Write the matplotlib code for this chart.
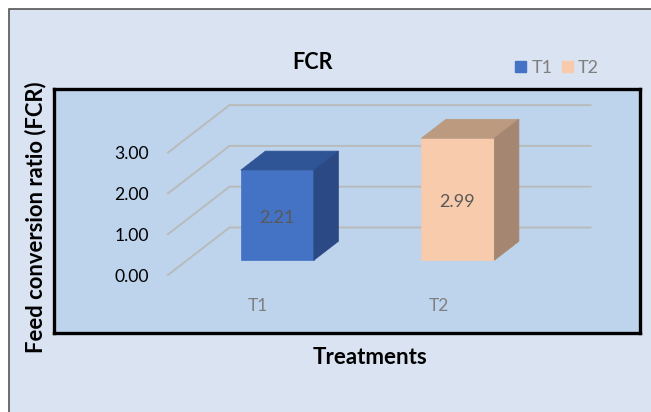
import matplotlib
matplotlib.use('Agg')
import matplotlib.pyplot as plt
from matplotlib.patches import Rectangle

plt.rcParams['font.family'] = ['Lato', 'DejaVu Sans']

# data
treatments = ['T1', 'T2']
fcr = [2.21, 2.99]
y_ticks = [0.00, 1.00, 2.00, 3.00]

front_colors = ['#4472C4', '#F7CBAC']
top_colors = ['#2F5597', '#BB9A80']
side_colors = ['#2B4A85', '#A58670']

W, H = 651, 412
# frame of the plot in pixels
L, R, T, B = 54, 640, 89, 333
# where x=0,y=0 sits and how big one unit is
X0, Y0 = 168, 275
XU, YU = 180.5, 40.8
# oblique depth, one full depth of the floor in data units
DX = 61.5 / XU
DY = 47.5 / YU
BAR_W = 73 / XU


def proj(x, y, d):
    return x + d * DX, y + d * DY


def box(ax, x0, x1, h, d0, d1, front, top, side):
    pts = [proj(x0, 0, d0), proj(x1, 0, d0), proj(x1, h, d0), proj(x0, h, d0)]
    ax.fill(*zip(*pts), color=front, lw=0.5, zorder=4)
    pts = [proj(x0, h, d0), proj(x1, h, d0), proj(x1, h, d1), proj(x0, h, d1)]
    ax.fill(*zip(*pts), color=top, lw=0.5, zorder=4)
    pts = [proj(x1, 0, d0), proj(x1, 0, d1), proj(x1, h, d1), proj(x1, h, d0)]
    ax.fill(*zip(*pts), color=side, lw=0.5, zorder=4)


fig = plt.figure(figsize=(W / 100, H / 100), dpi=100, facecolor='white')
fig.add_artist(Rectangle((8.5 / W, -0.05), 1.0, 1 + 0.05 - 9 / H, transform=fig.transFigure,
                         facecolor='#DAE3F2', edgecolor='#555555', lw=1.2, zorder=-5))

ax = fig.add_axes([L / W, 1 - B / H, (R - L) / W, (B - T) / H])
ax.set_facecolor('#BDD4EC')
ax.set_xlim((L - X0) / XU, (R - X0) / XU)
ax.set_ylim((Y0 - B) / YU, (Y0 - T) / YU)
for s in ax.spines.values():
    s.set_linewidth(2.4)
    s.set_color('black')

# walls
for v in y_ticks:
    xs, ys = zip(proj(0, v, 0), proj(0, v, 1), proj(2, v, 1))
    ax.plot(xs, ys, color='#B9BBBB', lw=1.4, solid_joinstyle='miter', zorder=2)

# bars
for i, h in enumerate(fcr):
    c = i + 0.5
    box(ax, c - BAR_W / 2, c + BAR_W / 2, h, 0.31, 0.71,
        front_colors[i], top_colors[i], side_colors[i])
    px, py = proj(c, h / 2, 0.31)
    ax.annotate('%.2f' % h, (px, py), xytext=(-0.5, -2.2), textcoords='offset points',
                ha='center', va='center', fontsize=13, color='#595959', zorder=5)

ax.set_yticks(y_ticks)
ax.set_yticklabels(['%.2f' % v for v in y_ticks], fontsize=12.6, color='black')
ax.set_xticks([0.5, 1.5])
ax.set_xticklabels(treatments, fontsize=12.5, color='#7F7F7F')
ax.tick_params(axis='both', length=0)
ax.tick_params(axis='y', pad=-(149 - L) * 0.72)
ax.tick_params(axis='x', pad=-(B - 298) * 0.72)

ax.set_title('FCR', x=(312 - L) / (R - L), y=(B - 69) / (B - T), pad=0, fontsize=15.5, fontweight='bold')
ax.set_ylabel('Feed conversion ratio (FCR)', fontsize=15.8, fontweight='bold')
ax.yaxis.set_label_coords((35.5 - L) / (R - L), (B - 217) / (B - T))
ax.yaxis.label.set_va('center')
ax.set_xlabel('Treatments', fontsize=16, fontweight='bold')
ax.xaxis.set_label_coords((370 - L) / (R - L), (B - 357) / (B - T))
ax.xaxis.label.set_va('center')

handles = [Rectangle((0, 0), 1, 1, color=c) for c in front_colors]
fig.legend(handles, treatments, loc='center', bbox_to_anchor=(557 / W, 1 - 68 / H), ncol=2,
           frameon=False, fontsize=13, labelcolor='#7F7F7F', handlelength=0.61, handleheight=0.61,
           handletextpad=0.3, columnspacing=0.5, borderpad=0)

fig.savefig('out.png', dpi=100)
